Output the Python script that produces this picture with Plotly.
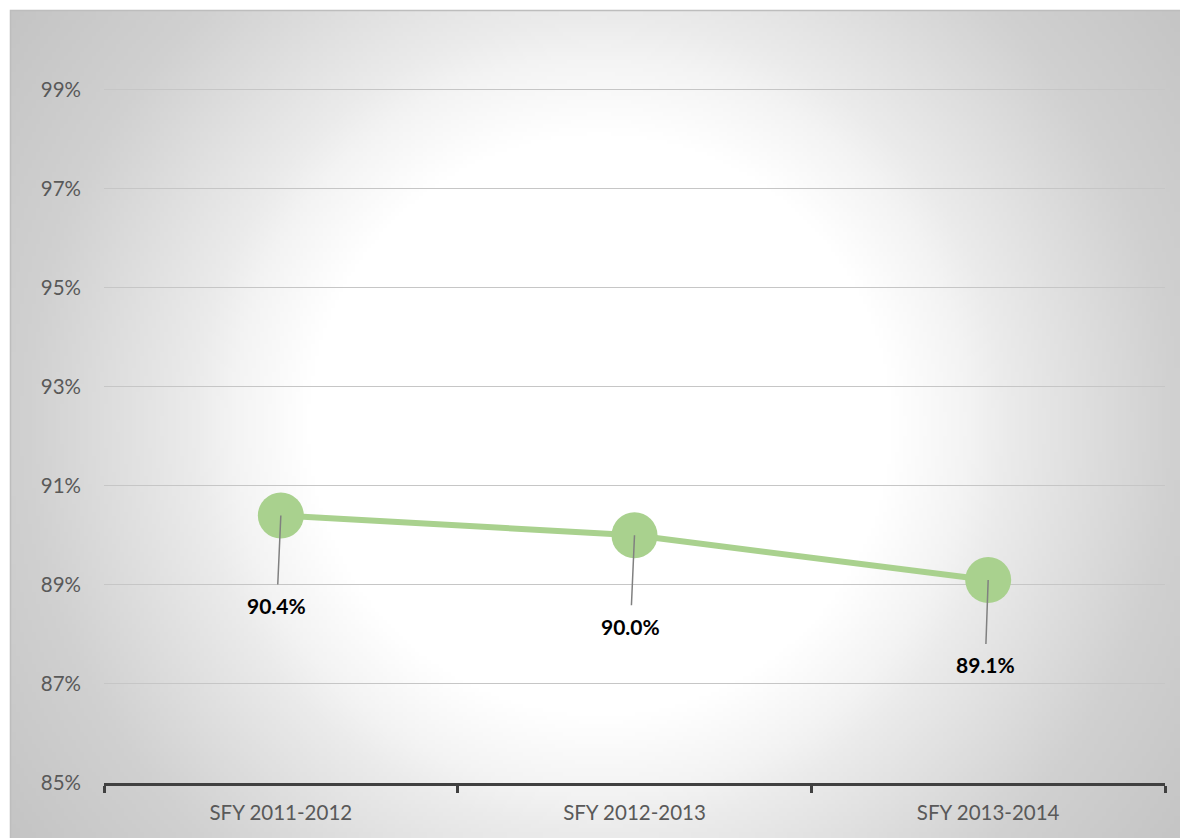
import base64
import struct
import zlib

import numpy as np
import plotly.graph_objects as go

# ---- data ----
categories = ["SFY 2011-2012", "SFY 2012-2013", "SFY 2013-2014"]
rates = [0.904, 0.900, 0.891]
label_dx = [-4, -4, -3]
label_dy = [90, 91, 85]

W, H = 1180, 838
L, R, T, B = 104, 15, 40, 55
PW, PH = W - L - R, H - T - B


def px_to_paper_x(px):
    return (px - L) / PW


def px_to_paper_y(py):
    return (H - B - py) / PH


# ---- radial gradient background as PNG ----
def make_png(arr):
    h, w = arr.shape
    raw = b"".join(b"\x00" + arr[r].tobytes() for r in range(h))

    def chunk(tag, data):
        c = struct.pack(">I", len(data)) + tag + data
        return c + struct.pack(">I", zlib.crc32(tag + data) & 0xFFFFFFFF)

    png = b"\x89PNG\r\n\x1a\n"
    png += chunk(b"IHDR", struct.pack(">IIBBBBB", w, h, 8, 0, 0, 0, 0))
    png += chunk(b"IDAT", zlib.compress(raw, 9))
    png += chunk(b"IEND", b"")
    return "data:image/png;base64," + base64.b64encode(png).decode()


x0, y0, x1, y1 = 10, 10, 1180, 838
gw, gh = 293, 207
xs = x0 + (np.arange(gw) + 0.5) * (x1 - x0) / gw
ys = y0 + (np.arange(gh) + 0.5) * (y1 - y0) / gh
XX, YY = np.meshgrid(xs, ys)
D = np.hypot(XX - 600, YY - 425)
stops_d = [0, 290, 370, 406, 575, 717, 800]
stops_v = [255, 255, 243, 235, 208, 196, 192]
grad = np.interp(D, stops_d, stops_v).round().astype(np.uint8)
bg_src = make_png(grad)

FONT = "Lato, Arial, sans-serif"

fig = go.Figure()
fig.add_trace(
    go.Scatter(
        x=categories,
        y=rates,
        mode="lines+markers",
        line=dict(color="#a9d18e", width=6),
        marker=dict(size=46, color="#a9d18e", line=dict(width=0)),
        hoverinfo="skip",
    )
)

annotations = []
for c, v, dx, dy in zip(categories, rates, label_dx, label_dy):
    annotations.append(
        dict(
            x=c,
            y=v,
            xref="x",
            yref="y",
            text=f"{v * 100:.1f}%",
            showarrow=True,
            arrowhead=0,
            arrowwidth=1.5,
            arrowcolor="#808080",
            ax=dx,
            ay=dy,
            standoff=0,
            borderpad=8,
            font=dict(family=FONT, size=21, color="#000000", weight="bold"),
        )
    )

fig.update_layout(
    width=W,
    height=H,
    autosize=False,
    margin=dict(l=L, r=R, t=T, b=B),
    paper_bgcolor="#ffffff",
    plot_bgcolor="rgba(0,0,0,0)",
    showlegend=False,
    font=dict(family=FONT, size=20.5, color="#595959"),
    images=[
        dict(
            source=bg_src,
            xref="paper",
            yref="paper",
            x=px_to_paper_x(x0),
            y=px_to_paper_y(y0),
            sizex=(x1 - x0) / PW,
            sizey=(y1 - y0) / PH,
            xanchor="left",
            yanchor="top",
            sizing="stretch",
            layer="below",
        )
    ],
    shapes=[
        dict(
            type="rect",
            xref="paper",
            yref="paper",
            x0=px_to_paper_x(10.5),
            x1=px_to_paper_x(1185),
            y0=px_to_paper_y(845),
            y1=px_to_paper_y(10.5),
            line=dict(color="#bdbdbd", width=1.5),
            fillcolor="rgba(0,0,0,0)",
            layer="below",
        )
    ],
    annotations=annotations,
    xaxis=dict(
        type="category",
        range=[-0.5, 2.5],
        showgrid=False,
        showline=True,
        linecolor="#404040",
        linewidth=3,
        ticks="outside",
        tickson="boundaries",
        ticklen=7,
        tickwidth=3,
        tickcolor="#404040",
        ticklabelstandoff=9,
        tickfont=dict(family=FONT, size=20.5, color="#595959"),
        zeroline=False,
    ),
    yaxis=dict(
        range=[0.85, 1.0],
        tick0=0.85,
        dtick=0.02,
        tickformat=".0%",
        showgrid=True,
        gridcolor="#c6c6c6",
        gridwidth=1,
        showline=False,
        zeroline=False,
        ticks="",
        ticklabelstandoff=22,
        tickfont=dict(family=FONT, size=20.5, color="#595959"),
    ),
)

fig.write_html("out.html")
